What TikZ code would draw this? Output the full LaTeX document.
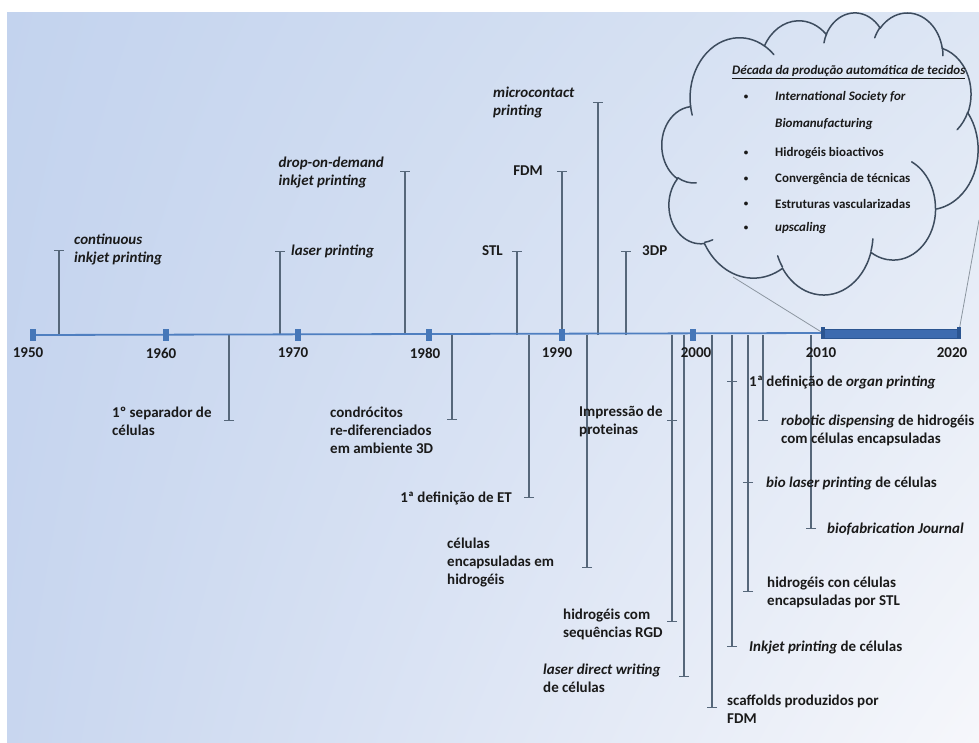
\documentclass[tikz,border=0pt]{standalone}
\usepackage{fontspec}
\setmainfont{Carlito}
\usetikzlibrary{arrows.meta,shadings}

\definecolor{bgUL}{HTML}{C3D3EE}
\definecolor{bgLL}{HTML}{C8D6EF}
\definecolor{bgUR}{HTML}{DDE6F4}
\definecolor{bgLR}{HTML}{F6F7FB}
\definecolor{txt}{HTML}{1A1A1A}
\definecolor{evtgray}{HTML}{56677A}
\definecolor{axisblue}{HTML}{4F7FC0}
\definecolor{tickblue}{HTML}{4677B8}
\definecolor{barblue}{HTML}{3D6BAF}
\definecolor{bardark}{HTML}{2B5591}
\definecolor{cloudline}{HTML}{3D4C5E}
\definecolor{zoomline}{HTML}{8C96A0}

% visual (ellipse) angle -> parametric angle, kept in the same turn
\pgfmathdeclarefunction{pptang}{3}{%
  \begingroup
    \pgfmathparse{atan2((#1)*sin(#3),(#2)*cos(#3))-(#3)}%
    \let\pptd\pgfmathresult
    \pgfmathparse{(#3)+\pptd-360*round(\pptd/360)}%
    \pgfmathsmuggle\pgfmathresult
  \endgroup
}
% one cloud arc: x radius, y radius, start angle, end angle (visual)
\newcommand\carc[4]{arc[x radius=#1, y radius=#2,
  start angle={pptang(#1,#2,#3)}, end angle={pptang(#1,#2,#4)}]}

\tikzset{
  evt/.style={draw=evtgray, line width=1.2pt, -{Bar[width=10pt]}},
  lbl/.style={inner sep=0pt, text=txt, align=left,
    font=\fontsize{15}{18}\selectfont\bfseries},
  yr/.style={inner sep=0pt, text=txt, font=\fontsize{15}{18}\selectfont\bfseries},
  dtick/.style={rectangle, fill=tickblue, minimum width=5pt, minimum height=11pt, inner sep=0pt},
  cloudtxt/.style={inner sep=0pt, text=txt, anchor=west,
    font=\fontsize{13}{15}\selectfont\bfseries},
  bul/.style={inner sep=0pt, text=txt, font=\fontsize{9}{10}\selectfont\bfseries},
  zoom/.style={draw=zoomline, line width=0.8pt},
}

\begin{document}
\begin{tikzpicture}[x=1pt, y=-1pt]
\useasboundingbox (0,0) rectangle (979,742);

% backdrop
\shade[shading=bilinear interpolation, upper left=bgUL, lower left=bgLL,
  upper right=bgUR, lower right=bgLR]
  (7,12) rectangle (979,742);

% decade 2010-2020 zoom lines towards the cloud
\coordinate (zA) at (733,277);
\coordinate (zB) at (979,220);
\coordinate (z2010) at (823,333);
\coordinate (z2020) at (959,331);
\draw[zoom] (zA) -- (z2010);
\draw[zoom] (zB) -- (z2020);

% cloud
\begin{scope}[shift={(662,12)}, x=0.73148pt, y=-0.65278pt]
  \draw[draw=cloudline, line width=1.5pt, line join=round]
    (39.00,143.70)
    \carc{67.53}{91.90}{-190.48748}{-66.70695}
    \carc{53.33}{72.67}{-144.10238}{-54.15715}
    \carc{43.65}{59.45}{-145.80792}{-46.0849}
    \carc{48.57}{65.95}{-130.98607}{-13.74434}
    \carc{53.33}{72.73}{-78.70888}{30.31804}
    \carc{67.75}{92.20}{-46.26725}{84.00175}
    \carc{57.85}{78.67}{0.62502}{114.65835}
    \carc{67.52}{92.15}{22.4516}{137.62415}
    \carc{77.20}{105.43}{66.24263}{141.95365}
    \carc{43.60}{59.18}{-274.94208}{-128.20651}
    \carc{43.45}{59.45}{-246.8285}{-94.30965}
    -- cycle;
  \draw[draw=cloudline, line width=1.5pt, line cap=round]
    (46.93,261.77) \carc{43.45}{59.45}{86.742}{113.1715}
    (69.28,348.99) \carc{43.60}{59.18}{73.6105}{85.058}
    (164.78,390.90) \carc{67.52}{92.15}{137.6242}{151.7053}
    (288.27,347.51) \carc{67.52}{92.15}{6.4533}{22.4517}
    (341.29,229.54) \carc{57.85}{78.67}{-70.2924}{0.625}
    (417.98,153.54) \carc{53.33}{72.73}{30.318}{58.0695}
    (383.24,54.26) \carc{48.57}{65.95}{-13.7443}{1.1146}
    (290.78,39.52) \carc{48.57}{65.95}{-149.1815}{-130.9861}
    (221.41,47.20) \carc{43.65}{59.45}{-163.4943}{-145.8079}
    (140.00,51.92) \carc{67.53}{91.90}{-66.707}{-54.3876}
    (41.27,157.89) \carc{67.53}{91.90}{157.6544}{169.5126};
\end{scope}

% cloud contents
\node[cloudtxt] (ctitle) at (732,72) {\underline{\textit{Década da produção automática de tecidos}}};
\node[cloudtxt] (c1) at (775,97) {\textit{International Society for}};
\node[cloudtxt] (c1b) at (775,124) {\textit{Biomanufacturing}};
\node[cloudtxt] (c2) at (775,153) {Hidrogéis bioactivos};
\node[cloudtxt] (c3) at (775,179) {Convergência de técnicas};
\node[cloudtxt] (c4) at (775,204) {Estruturas vascularizadas};
\node[cloudtxt] (c5) at (775,228) {\textit{upscaling}};
\foreach \n/\yy in {1/97,2/153,3/179,4/204,5/228}
  \node[bul] (b\n) at (746,\yy) {•};

% axis anchors of the events
\foreach \n/\xx in {a1/59,a2/280,a3/405,a4/517,a5/562,a6/598,a7/626,
    b1/229,b2/452,b3/529,b4/587,b5/672,b6/684,b7/712,b8/732,b9/748,b10/763,b11/811}
  \coordinate (\n) at (\xx,335);

% event ends
\coordinate (e1) at (59,250);
\coordinate (e2) at (280,251);
\coordinate (e3) at (405,171);
\coordinate (e4) at (517,251);
\coordinate (e5) at (562,171);
\coordinate (e6) at (598,102);
\coordinate (e7) at (626,251);
\coordinate (e8) at (229,421);
\coordinate (e9) at (452,420);
\coordinate (e10) at (529,498);
\coordinate (e11) at (587,568);
\coordinate (e12) at (672,421);
\coordinate (e13) at (672,622);
\coordinate (e14) at (684,677);
\coordinate (e15) at (712,708);
\coordinate (e16) at (732,647);
\coordinate (e17) at (748,592);
\coordinate (e18) at (748,483);
\coordinate (e19) at (811,529);
\coordinate (e20) at (763,421);
\coordinate (e21) at (732,382);

\draw[evt] (a1) -- (e1);
\draw[evt] (a2) -- (e2);
\draw[evt] (a3) -- (e3);
\draw[evt] (a4) -- (e4);
\draw[evt] (a5) -- (e5);
\draw[evt] (a6) -- (e6);
\draw[evt] (a7) -- (e7);
\draw[evt] (b1) -- (e8);
\draw[evt] (b2) -- (e9);
\draw[evt] (b3) -- (e10);
\draw[evt] (b4) -- (e11);
\draw[evt] (b5) -- (e13);
\draw[evt] (b5) -- (e12);
\draw[evt] (b6) -- (e14);
\draw[evt] (b7) -- (e15);
\draw[evt] (b8) -- (e16);
\draw[evt] (b8) -- (e21);
\draw[evt] (b9) -- (e17);
\draw[evt] (b9) -- (e18);
\draw[evt] (b10) -- (e20);
\draw[evt] (b11) -- (e19);

% time axis with decade marks
\node[dtick] (d1950) at (33,335) {};
\node[dtick] (d1960) at (166,335) {};
\node[dtick] (d1970) at (298,335) {};
\node[dtick] (d1980) at (429,335) {};
\node[dtick] (d1990) at (562,335) {};
\node[dtick] (d2000) at (693,335) {};
\draw[axisblue, line width=1.8pt] (d1950.center) -- (z2010);
\foreach \d in {d1950,d1960,d1970,d1980,d1990,d2000}
  \fill[tickblue] (\d.south west) rectangle (\d.north east);
\fill[barblue, draw=bardark, line width=0.8pt] (823,329) rectangle (959,338);
\fill[bardark] (821,327) rectangle (825,339);
\fill[bardark] (957,327) rectangle (961,339);

% year labels
\node[yr] (y1950) at (28,353) {1950};
\node[yr] (y1960) at (161,353) {1960};
\node[yr] (y1970) at (293,353) {1970};
\node[yr] (y1980) at (425,353) {1980};
\node[yr] (y1990) at (557,353) {1990};
\node[yr] (y2000) at (696,353) {2000};
\node[yr] (y2010) at (821,353) {2010};
\node[yr] (y2020) at (952,353) {2020};

% event labels above the axis
\node[lbl, anchor=west] (l1) at (74,249) {\textit{continuous}\\\textit{inkjet printing}};
\node[lbl, anchor=west] (l2) at (291,251) {\textit{laser printing}};
\node[lbl, anchor=east] (l3) at (384,172) {\textit{drop-on-demand}\\\textit{inkjet printing}};
\node[lbl, anchor=east] (l4) at (503,251) {STL};
\node[lbl, anchor=east] (l5) at (543,171) {FDM};
\node[lbl, anchor=west] (l6) at (493,102.5) {\textit{microcontact}\\\textit{printing}};
\node[lbl, anchor=west] (l7) at (642,251) {3DP};

% event labels below the axis
\node[lbl, anchor=west] (l8) at (112,421) {1º separador de\\células};
\node[lbl, anchor=west] (l9) at (330,430) {condrócitos\\re-diferenciados\\em ambiente 3D};
\node[lbl, anchor=east] (l10) at (512,498) {1ª definição de ET};
\node[lbl, anchor=west] (l11) at (447,562) {células\\encapsuladas em\\hidrogéis};
\node[lbl, anchor=west] (l12) at (579,421) {Impressão de\\proteinas};
\node[lbl, anchor=west] (l13) at (563,624) {hidrogéis com\\sequências RGD};
\node[lbl, anchor=west] (l14) at (543,678) {\textit{laser direct writing}\\de células};
\node[lbl, anchor=west] (l15) at (727,709.5) {scaffolds produzidos por\\FDM};
\node[lbl, anchor=west] (l16) at (749,647) {\textit{Inkjet printing} de células};
\node[lbl, anchor=west] (l17) at (767,592) {hidrogéis con células\\encapsuladas por STL};
\node[lbl, anchor=west] (l18) at (766,483) {\textit{bio laser printing} de células};
\node[lbl, anchor=west] (l19) at (827,529) {\textit{biofabrication Journal}};
\node[lbl, anchor=west] (l20) at (781,430) {\textit{robotic dispensing} de hidrogéis\\com células encapsuladas};
\node[lbl, anchor=west] (l21) at (749,382) {1ª definição de \textit{organ printing}};
\end{tikzpicture}
\end{document}
